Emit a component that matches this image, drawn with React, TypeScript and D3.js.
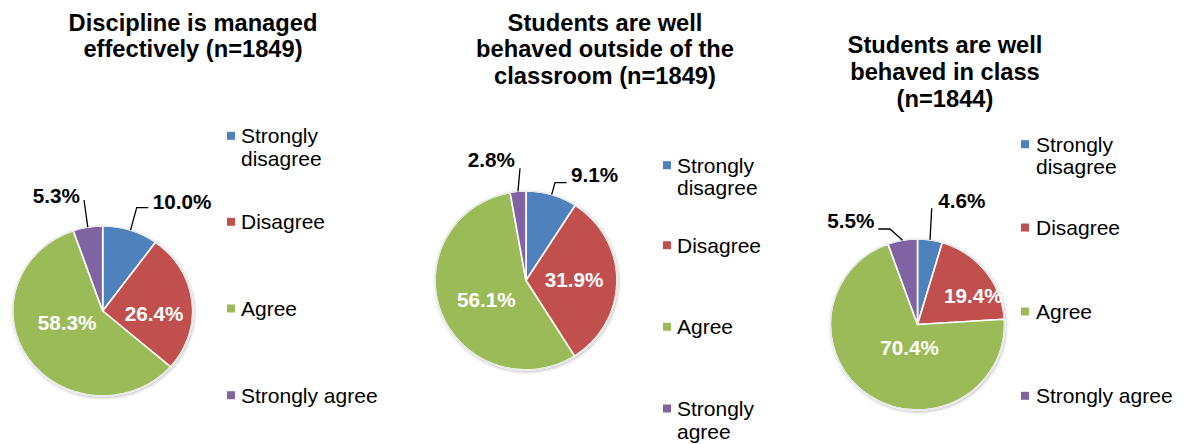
import React from "react";
import * as d3 from "d3";

// ---- data ----
const categories = ["Strongly disagree", "Disagree", "Agree", "Strongly agree"];
const disciplineValues = [10.0, 26.4, 58.3, 5.3];
const outsideValues = [9.1, 31.9, 56.1, 2.8];
const inClassValues = [4.6, 19.4, 70.4, 5.5];
const chartTitles = [
  ["Discipline is managed", "effectively (n=1849)"],
  ["Students are well", "behaved outside of the", "classroom (n=1849)"],
  ["Students are well", "behaved in class", "(n=1844)"],
];
const colors = ["#4F81BD", "#C0504D", "#9BBB59", "#8064A2"];

// ---- layout (positions only) ----
type Layout = {
  cx: number; cy: number; rx: number; ry: number;
  titleX: number; titleY: number;
  legSqX: number; legTextX: number;
  legLines: string[][]; legY: number[];
  labels: ({ kind: "in"; x: number; y: number } | { kind: "out"; x: number; y: number; pts: [number, number][] })[];
};

const layouts: Layout[] = [
  {
    cx: 102.7, cy: 311, rx: 90, ry: 85,
    titleX: 193, titleY: 30.7,
    legSqX: 227, legTextX: 241,
    legLines: [["Strongly", "disagree"], ["Disagree"], ["Agree"], ["Strongly agree"]],
    legY: [143.3, 229.3, 316, 402.7],
    labels: [
      { kind: "out", x: 152.7, y: 209, pts: [[136.7, 207.7], [148.3, 207.7]] },
      { kind: "in", x: 154, y: 321 },
      { kind: "in", x: 67.2, y: 330 },
      { kind: "out", x: 32.7, y: 202.7, pts: [[84, 200]] },
    ],
  },
  {
    cx: 526, cy: 280.5, rx: 91, ry: 89.5,
    titleX: 605, titleY: 30.7,
    legSqX: 663, legTextX: 677,
    legLines: [["Strongly", "disagree"], ["Disagree"], ["Agree"], ["Strongly", "agree"]],
    legY: [172.7, 252.7, 334.3, 416],
    labels: [
      { kind: "out", x: 571, y: 182.3, pts: [[555, 182.7], [566.7, 182.7]] },
      { kind: "in", x: 574, y: 287.3 },
      { kind: "in", x: 486.3, y: 306.7 },
      { kind: "out", x: 467.7, y: 166.7, pts: [[520, 168.3]] },
    ],
  },
  {
    cx: 917.5, cy: 324.5, rx: 87, ry: 85.5,
    titleX: 945, titleY: 53.3,
    legSqX: 1021, legTextX: 1036,
    legLines: [["Strongly", "disagree"], ["Disagree"], ["Agree"], ["Strongly agree"]],
    legY: [151.7, 235, 319, 403.3],
    labels: [
      { kind: "out", x: 938.3, y: 208.3, pts: [[931.7, 208.3]] },
      { kind: "in", x: 973.3, y: 303.3 },
      { kind: "in", x: 909.7, y: 355 },
      { kind: "out", x: 827.3, y: 228.3, pts: [[890, 229], [878.3, 229]] },
    ],
  },
];

const seriesList = [disciplineValues, outsideValues, inClassValues];
const FONT = "'Liberation Sans', Arial, Helvetica, sans-serif";
const fmt = d3.format(".1f");

function Pie({ values, title, L, idx }: { values: number[]; title: string[]; L: Layout; idx: number }) {
  const pie = d3.pie<number>().sort(null).value((d) => d).startAngle(0).endAngle(2 * Math.PI);
  const arcs = pie(values);
  const arc = d3.arc<d3.PieArcDatum<number>>().innerRadius(0).outerRadius(L.rx);
  const sy = L.ry / L.rx;
  const edge = (a: d3.PieArcDatum<number>): [number, number] => {
    const m = (a.startAngle + a.endAngle) / 2;
    return [L.cx + L.rx * Math.sin(m), L.cy - L.ry * Math.cos(m)];
  };
  return (
    <g>
      {title.map((t, i) => (
        <text key={i} x={L.titleX} y={L.titleY + i * 26.7} textAnchor="middle" fontFamily={FONT}
          fontWeight="bold" fontSize={23.7} fill="#000">{t}</text>
      ))}
      <g transform={`translate(${L.cx},${L.cy}) scale(1,${sy})`} filter={`url(#shadow${idx})`}>
        {arcs.map((a, i) => (
          <path key={i} d={arc(a) || ""} fill={colors[i]} stroke="#fff" strokeWidth={1.6}
            vectorEffect="non-scaling-stroke" strokeLinejoin="round" />
        ))}
        <circle r={L.rx} fill="none" stroke="#e4e4e4" strokeWidth={1.2} vectorEffect="non-scaling-stroke" />
      </g>
      {arcs.map((a, i) => {
        const lb = L.labels[i];
        const txt = fmt(values[i]) + "%";
        if (lb.kind === "in") {
          return (
            <text key={i} x={lb.x} y={lb.y} textAnchor="middle" fontFamily={FONT} fontWeight="bold"
              fontSize={20.7} fill="#fff">{txt}</text>
          );
        }
        const pts = [edge(a), ...lb.pts];
        return (
          <g key={i}>
            <path d={d3.line()(pts) || ""} fill="none" stroke="#000" strokeWidth={1.3} />
            <text x={lb.x} y={lb.y} fontFamily={FONT} fontWeight="bold" fontSize={20.7} fill="#000">{txt}</text>
          </g>
        );
      })}
      {categories.map((c, i) => (
        <g key={c}>
          <rect x={L.legSqX} y={L.legY[i] - 11.5} width={8} height={8} fill={colors[i]} />
          {L.legLines[i].map((ln, j) => (
            <text key={j} x={L.legTextX} y={L.legY[i] + j * 22.5} fontFamily={FONT} fontSize={21} fill="#000">{ln}</text>
          ))}
        </g>
      ))}
    </g>
  );
}

export default function App() {
  return (
    <svg width={1183} height={444} style={{ position: "absolute", left: 0, top: 0, display: "block", background: "#fff" }}>
      <defs>
        {layouts.map((_, i) => (
          <filter key={i} id={`shadow${i}`} x="-20%" y="-20%" width="140%" height="140%">
            <feDropShadow dx={0.8} dy={1.2} stdDeviation={1.6} floodColor="#000" floodOpacity={0.25} />
          </filter>
        ))}
      </defs>
      <rect width={1183} height={444} fill="#fff" />
      {layouts.map((L, i) => (
        <Pie key={i} values={seriesList[i]} title={chartTitles[i]} L={L} idx={i} />
      ))}
    </svg>
  );
}
